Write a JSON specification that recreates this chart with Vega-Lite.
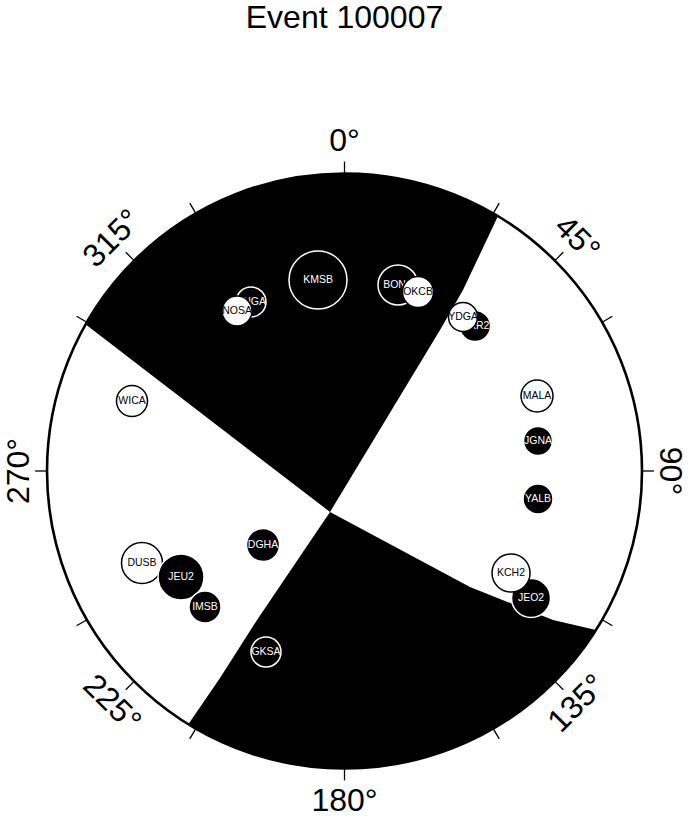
{
  "$schema": "https://vega.github.io/schema/vega-lite/v6.json",
  "width": 690,
  "height": 773,
  "padding": {"left": 0, "top": 45, "right": 0, "bottom": 0},
  "autosize": "none",
  "background": "white",
  "config": {"view": {"stroke": null}},
  "datasets": {
    "title": [{"t": "Event 100007", "x": 0, "y": 1.4891}],
    "top": [{"x": -0.9661, "y": 0.5664}, {"x": -0.0487, "y": -0.1378}, {"x": 0.3210, "y": 0.4739}, {"x": 0.3983, "y": 0.6084}, {"x": 0.5160, "y": 0.8571}, {"x": 0.5694, "y": 0.9664}],
    "bot": [{"x": -0.5933, "y": -0.9513}, {"x": -0.4185, "y": -0.6958}, {"x": -0.2941, "y": -0.5008}, {"x": -0.0487, "y": -0.1378}, {"x": 0.4218, "y": -0.3899}, {"x": 0.7008, "y": -0.5008}, {"x": 0.8454, "y": -0.5345}, {"x": 0.9576, "y": -0.5795}],
    "origin": [{"x": 0, "y": 0}],
    "ticks": [
      {"x": 0, "y": 1, "x2": 0, "y2": 1.04},
      {"x": 0.5, "y": 0.866, "x2": 0.52, "y2": 0.9006},
      {"x": 0.7071, "y": 0.7071, "x2": 0.7354, "y2": 0.7354},
      {"x": 0.866, "y": 0.5, "x2": 0.9006, "y2": 0.52},
      {"x": 1, "y": 0, "x2": 1.04, "y2": 0},
      {"x": 0.866, "y": -0.5, "x2": 0.9006, "y2": -0.52},
      {"x": 0.7071, "y": -0.7071, "x2": 0.7354, "y2": -0.7354},
      {"x": 0.5, "y": -0.866, "x2": 0.52, "y2": -0.9006},
      {"x": 0, "y": -1, "x2": 0, "y2": -1.04},
      {"x": -0.5, "y": -0.866, "x2": -0.52, "y2": -0.9006},
      {"x": -0.7071, "y": -0.7071, "x2": -0.7354, "y2": -0.7354},
      {"x": -0.866, "y": -0.5, "x2": -0.9006, "y2": -0.52},
      {"x": -1, "y": 0, "x2": -1.04, "y2": 0},
      {"x": -0.866, "y": 0.5, "x2": -0.9006, "y2": 0.52},
      {"x": -0.7071, "y": 0.7071, "x2": -0.7354, "y2": 0.7354},
      {"x": -0.5, "y": 0.866, "x2": -0.52, "y2": 0.9006}
    ],
    "labels": [
      {"t": "0°", "x": 0, "y": 1.108, "deg": 0},
      {"t": "45°", "x": 0.7814, "y": 0.7814, "deg": 45},
      {"t": "90°", "x": 1.093, "y": 0, "deg": 90},
      {"t": "135°", "x": 0.7814, "y": -0.7814, "deg": 135},
      {"t": "180°", "x": 0, "y": -1.108, "deg": 180},
      {"t": "225°", "x": -0.7814, "y": -0.7814, "deg": 225},
      {"t": "270°", "x": -1.093, "y": 0, "deg": 270},
      {"t": "315°", "x": -0.7814, "y": 0.7814, "deg": 315}
    ],
    "stations": [
      {"sta": "KMSB", "x": -0.0891, "y": 0.6420, "rad": 0.0975, "pol": "C", "z": 1},
      {"sta": "SNGA", "x": -0.3143, "y": 0.5681, "rad": 0.0504, "pol": "C", "z": 0},
      {"sta": "NOSA", "x": -0.3613, "y": 0.5378, "rad": 0.0504, "pol": "D", "z": 1},
      {"sta": "BONA", "x": 0.1798, "y": 0.6252, "rad": 0.0672, "pol": "C", "z": 0},
      {"sta": "OKCB", "x": 0.2471, "y": 0.6017, "rad": 0.0521, "pol": "D", "z": 1},
      {"sta": "GKR2", "x": 0.4387, "y": 0.4874, "rad": 0.0521, "pol": "C", "z": 0},
      {"sta": "YDGA", "x": 0.3983, "y": 0.5176, "rad": 0.0487, "pol": "D", "z": 1},
      {"sta": "MALA", "x": 0.6471, "y": 0.2521, "rad": 0.0538, "pol": "D", "z": 1},
      {"sta": "JGNA", "x": 0.6504, "y": 0.1008, "rad": 0.0487, "pol": "C", "z": 1},
      {"sta": "YALB", "x": 0.6504, "y": -0.0941, "rad": 0.0504, "pol": "C", "z": 1},
      {"sta": "WICA", "x": -0.7143, "y": 0.2353, "rad": 0.0521, "pol": "D", "z": 1},
      {"sta": "DUSB", "x": -0.6807, "y": -0.3092, "rad": 0.0689, "pol": "D", "z": 0},
      {"sta": "JEU2", "x": -0.5496, "y": -0.3563, "rad": 0.0773, "pol": "C", "z": 1},
      {"sta": "IMSB", "x": -0.4689, "y": -0.4571, "rad": 0.0538, "pol": "C", "z": 1},
      {"sta": "DGHA", "x": -0.2739, "y": -0.2487, "rad": 0.0555, "pol": "C", "z": 1},
      {"sta": "JEO2", "x": 0.6269, "y": -0.4269, "rad": 0.0655, "pol": "C", "z": 0},
      {"sta": "KCH2", "x": 0.5597, "y": -0.3429, "rad": 0.0639, "pol": "D", "z": 1},
      {"sta": "GKSA", "x": -0.2639, "y": -0.6084, "rad": 0.0504, "pol": "C", "z": 1}
    ]
  },
  "layer": [
    {
      "data": {"name": "top"},
      "mark": {"type": "area", "orient": "vertical", "color": "black", "interpolate": "linear"},
      "encoding": {
        "x": {"field": "x", "type": "quantitative", "scale": {"domain": [-1.158, 1.1613], "nice": false, "zero": false}, "axis": null},
        "y": {"field": "y", "type": "quantitative", "scale": {"domain": [-1.1664, 1.4319], "nice": false, "zero": false}, "axis": null},
        "y2": {"datum": 1.045}
      }
    },
    {
      "data": {"name": "bot"},
      "mark": {"type": "area", "orient": "vertical", "color": "black", "interpolate": "linear"},
      "encoding": {
        "x": {"field": "x", "type": "quantitative"},
        "y": {"field": "y", "type": "quantitative"},
        "y2": {"datum": -1.05}
      }
    },
    {
      "data": {"name": "origin"},
      "mark": {"type": "point", "shape": "circle", "filled": false, "stroke": "white", "strokeWidth": 140, "size": 540225, "opacity": 1},
      "encoding": {
        "x": {"field": "x", "type": "quantitative"},
        "y": {"field": "y", "type": "quantitative"}
      }
    },
    {
      "data": {"name": "origin"},
      "mark": {"type": "point", "shape": "circle", "filled": false, "stroke": "black", "strokeWidth": 2.6, "size": 354025, "opacity": 1},
      "encoding": {
        "x": {"field": "x", "type": "quantitative"},
        "y": {"field": "y", "type": "quantitative"}
      }
    },
    {
      "data": {"name": "ticks"},
      "mark": {"type": "rule", "color": "black", "strokeWidth": 1.3},
      "encoding": {
        "x": {"field": "x", "type": "quantitative"},
        "y": {"field": "y", "type": "quantitative"},
        "x2": {"field": "x2"},
        "y2": {"field": "y2"}
      }
    },
    {
      "data": {"name": "title"},
      "mark": {"type": "text", "font": "Liberation Sans", "fontSize": 32, "align": "center", "baseline": "alphabetic", "color": "black"},
      "encoding": {
        "x": {"field": "x", "type": "quantitative"},
        "y": {"field": "y", "type": "quantitative"},
        "text": {"field": "t"}
      }
    },
    {
      "data": {"name": "labels"},
      "mark": {"type": "text", "font": "Liberation Sans", "fontSize": 32, "align": "center", "baseline": "middle", "color": "black"},
      "encoding": {
        "x": {"field": "x", "type": "quantitative"},
        "y": {"field": "y", "type": "quantitative"},
        "text": {"field": "t"},
        "angle": {"field": "deg", "type": "quantitative", "scale": {"type": "threshold", "domain": [22.5, 67.5, 112.5, 157.5, 202.5, 247.5, 292.5, 337.5], "range": [0, 45, 90, -45, 0, 45, -90, -45, 0]}, "legend": null}
      }
    },
    {
      "data": {"name": "stations"},
      "transform": [{"filter": "datum.z == 0"}],
      "mark": {"type": "point", "shape": "circle", "filled": true, "strokeWidth": 1.5, "opacity": 1},
      "encoding": {
        "x": {"field": "x", "type": "quantitative"},
        "y": {"field": "y", "type": "quantitative"},
        "size": {"field": "rad", "type": "quantitative", "scale": {"type": "pow", "exponent": 2, "domain": [0, 0.1], "range": [0, 3540]}, "legend": null},
        "fill": {"field": "pol", "type": "nominal", "scale": {"domain": ["C", "D"], "range": ["black", "white"]}, "legend": null},
        "stroke": {"field": "pol", "type": "nominal", "scale": {"domain": ["C", "D"], "range": ["white", "black"]}, "legend": null}
      }
    },
    {
      "data": {"name": "stations"},
      "transform": [{"filter": "datum.z == 0"}],
      "mark": {"type": "text", "font": "Liberation Sans", "fontSize": 10.5, "align": "center", "baseline": "middle"},
      "encoding": {
        "x": {"field": "x", "type": "quantitative"},
        "y": {"field": "y", "type": "quantitative"},
        "text": {"field": "sta"},
        "color": {"field": "pol", "type": "nominal", "scale": {"domain": ["C", "D"], "range": ["white", "black"]}, "legend": null}
      }
    },
    {
      "data": {"name": "stations"},
      "transform": [{"filter": "datum.z == 1"}],
      "mark": {"type": "point", "shape": "circle", "filled": true, "strokeWidth": 1.5, "opacity": 1},
      "encoding": {
        "x": {"field": "x", "type": "quantitative"},
        "y": {"field": "y", "type": "quantitative"},
        "size": {"field": "rad", "type": "quantitative", "legend": null},
        "fill": {"field": "pol", "type": "nominal", "legend": null},
        "stroke": {"field": "pol", "type": "nominal", "legend": null}
      }
    },
    {
      "data": {"name": "stations"},
      "transform": [{"filter": "datum.z == 1"}],
      "mark": {"type": "text", "font": "Liberation Sans", "fontSize": 10.5, "align": "center", "baseline": "middle"},
      "encoding": {
        "x": {"field": "x", "type": "quantitative"},
        "y": {"field": "y", "type": "quantitative"},
        "text": {"field": "sta"},
        "color": {"field": "pol", "type": "nominal", "legend": null}
      }
    }
  ]
}
